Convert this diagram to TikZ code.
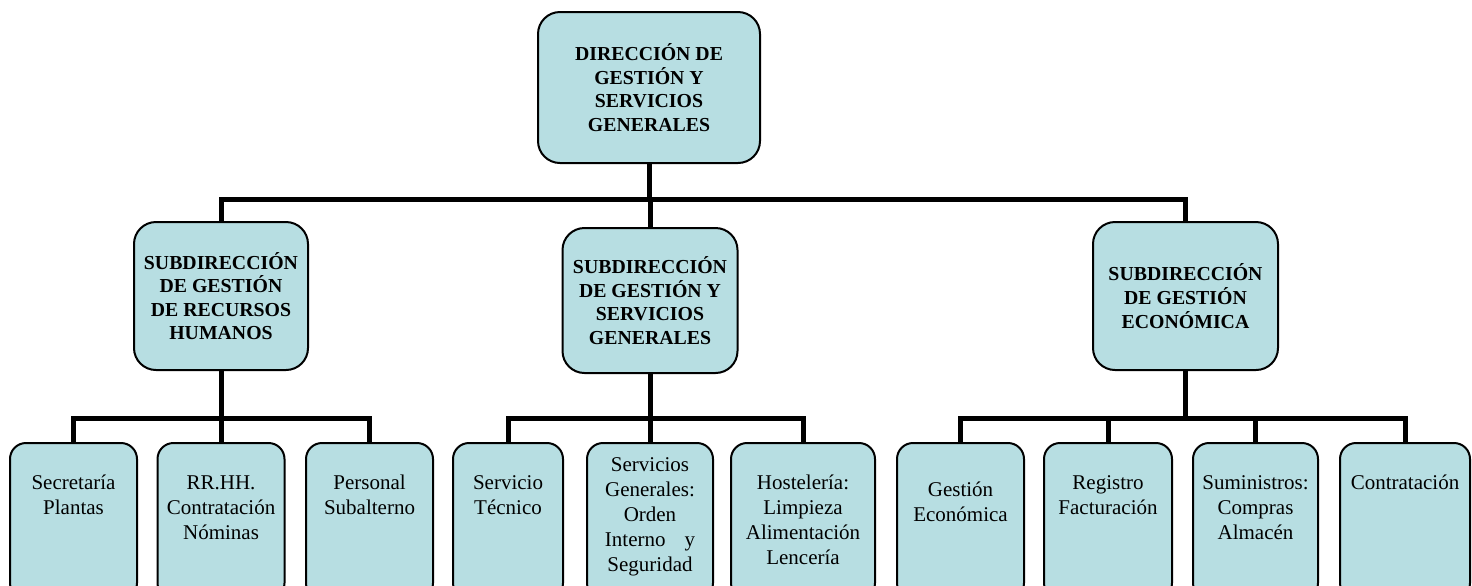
\documentclass[tikz,border=0pt]{standalone}
\usepackage{fontspec}
\setmainfont{Liberation Serif}
\definecolor{cajafondo}{RGB}{183,222,226}
\tikzset{
  caja/.style={draw=black,line width=1pt,fill=cajafondo,align=center,inner sep=0pt},
  jefe/.style={caja,rounded corners=11pt,font=\bfseries\fontsize{9.9}{11.8}\selectfont},
  hoja/.style={caja,rounded corners=8pt,anchor=north,text width=#1,
    text height=8pt,text depth=40pt,inner ysep=15pt,
    font=\fontsize{10.5}{12.5}\selectfont},
  rama/.style={line width=2.5pt}
}
\begin{document}
\begin{tikzpicture}[x=0.5pt,y=-0.5pt]
      \useasboundingbox (0,0) rectangle (1472,585) ;
      \clip (0,0) rectangle (1472,585) ;
      % direccion y subdirecciones
      \node[jefe,minimum width=111pt,minimum height=75.5pt] (dir) at (649,87.5) %
      {DIRECCIÓN DE\\GESTIÓN Y\\SERVICIOS\\GENERALES} ;
      \node[jefe,minimum width=87pt,minimum height=74pt] (rrhh) at (221,296) %
      {SUBDIRECCIÓN\\DE GESTIÓN\\DE RECURSOS\\HUMANOS} ;
      \node[jefe,minimum width=87.5pt,minimum height=72.5pt] (sgen) at (650,300.5) %
      {SUBDIRECCIÓN\\DE GESTIÓN Y\\SERVICIOS\\GENERALES} ;
      \node[jefe,minimum width=92.5pt,minimum height=74pt] (econ) at (1185.5,296) %
      {SUBDIRECCIÓN\\DE GESTIÓN\\ECONÓMICA} ;
      % unidades
      \node[hoja=63.5pt] (secr) at (73.5,442) {Secretaría\\Plantas} ;
      \node[hoja=63.5pt] (nomi) at (221,442) {RR.HH.\\Contratación\\Nóminas} ;
      \node[hoja=63.5pt] (subal) at (369.5,442) {Personal\\Subalterno} ;
      \node[hoja=55pt] (tecn) at (508,442) {Servicio\\Técnico} ;
      \node[hoja=63pt,inner ysep=6pt,text depth=58pt] (orden) at (650,442) %
      {Servicios\\Generales:\\Orden\\Interno\hspace{0.9em}y\\Seguridad} ;
      \node[hoja=72pt] (host) at (803,442) %
      {Hostelería:\\Limpieza\\Alimentación\\Lencería} ;
      \node[hoja=63.5pt,inner ysep=18.5pt,text depth=33pt] (gest) at (960.5,442) %
      {Gestión\\Económica} ;
      \node[hoja=64pt] (regi) at (1108,442) {Registro\\Facturación} ;
      \node[hoja=62.5pt] (sumi) at (1255.5,442) {Suministros:\\Compras\\Almacén} ;
      \node[hoja=65pt] (contr) at (1405,442) {Contratación} ;
      % lineas
      \coordinate (b0) at (649,199) ;
      \draw[rama] (dir.south) -- (b0) ;
      \draw[rama] (rrhh.north) |- (b0) -| (econ.north) ;
      \draw[rama] (sgen.north |- b0) -- (sgen.north) ;
      \coordinate (b1) at (221,418) ;
      \draw[rama] (rrhh.south) -- (b1) ;
      \draw[rama] (secr.north) |- (b1) -| (subal.north) ;
      \draw[rama] (b1) -- (nomi.north) ;
      \coordinate (b2) at (650,418) ;
      \draw[rama] (sgen.south) -- (b2) ;
      \draw[rama] (tecn.north) |- (b2) -| (host.north) ;
      \draw[rama] (b2) -- (orden.north) ;
      \coordinate (b3) at (1185.5,418) ;
      \draw[rama] (econ.south) -- (b3) ;
      \draw[rama] (gest.north) |- (b3) -| (contr.north) ;
      \draw[rama] (regi.north |- b3) -- (regi.north) ;
      \draw[rama] (sumi.north |- b3) -- (sumi.north) ;
\end{tikzpicture}
\end{document}
